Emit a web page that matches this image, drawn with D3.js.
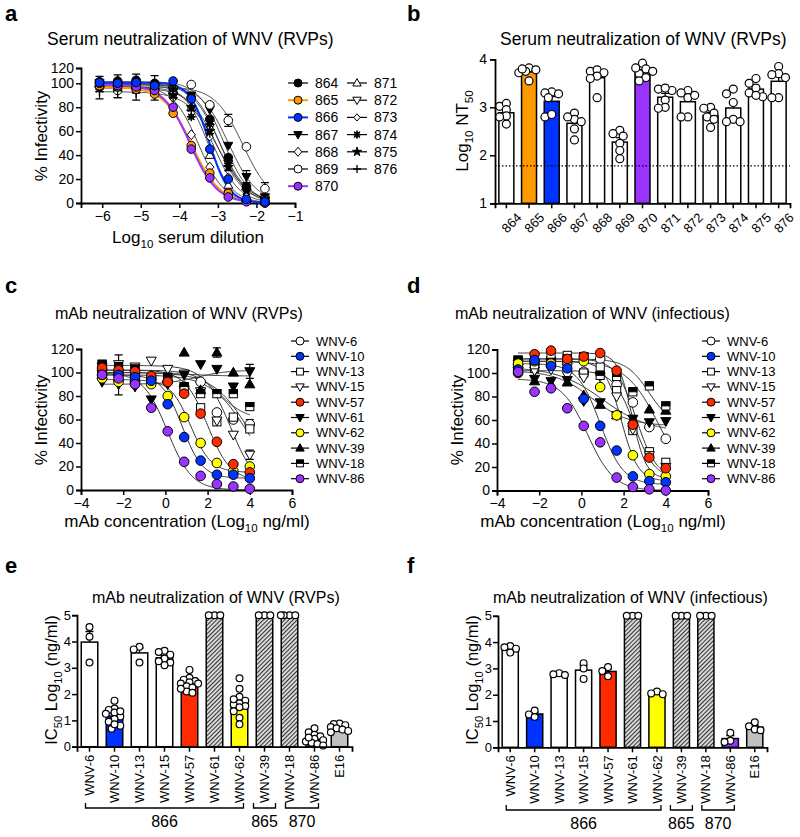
<!DOCTYPE html>
<html><head><meta charset="utf-8">
<script src="https://cdn.jsdelivr.net/npm/d3@7"></script>
<style>body{margin:0;background:#fff} text{font-family:"Liberation Sans",Arial,Helvetica,sans-serif;fill:#000}</style>
</head><body>
<script>
// ================= DATA =================
// Panel a – serum neutralization curves (RVPs)
const serumIds = ["864","865","866","867","868","869","870","871","872","873","874","875","876"];
const serumFill = ["#000","#ff9900","#0033ff","#000","#fff","#fff","#9933ff","#fff","#fff","#fff","#000","#000","#000"];
const serumShape = ["circle","circle","circle","triDown","diamond","circle","circle","tri","triDown","diamondSmall","burst","star","plus"];
const serumLine = ["#333","#ff9900","#0033ff","#333","#333","#333","#9933ff","#333","#333","#333","#333","#333","#333"];
const serumDilution = [-6.07,-5.60,-5.12,-4.64,-4.16,-3.69,-3.21,-2.73,-2.26,-1.78];
const serumInfectivity = [
  [102,103,104,100,96,88,70,38,14,3],
  [98,97,95,91,75,48,25,8,2,0],
  [101,100,101,98,103,87,45,20,3,1],
  [100,99,97,96,94,90,78,48,22,5],
  [98,97,99,95,88,57,30,10,3,1],
  [97,94,96,97,92,99,82,69,47,12],
  [100,98,97,94,80,45,21,5,1,0],
  [99,100,98,97,94,80,40,15,4,1],
  [101,99,100,98,95,86,63,33,10,3],
  [97,98,96,97,92,80,55,22,7,2],
  [100,101,99,98,95,72,66,33,12,2],
  [96,97,95,94,90,80,60,30,10,3],
  [93,94,92,90,88,77,58,35,13,4]
];
const serumErr = [
  [7,8,8,10,6,0,0,0,0,0],
  [0,0,0,0,0,0,0,0,0,0],
  [0,0,0,0,0,0,0,0,0,0],
  [0,0,0,0,0,0,0,0,5,0],
  [0,0,0,0,0,0,0,0,0,0],
  [0,6,0,0,0,0,0,5,0,5],
  [0,0,0,0,0,0,0,0,0,0],
  [0,0,0,0,0,0,0,0,0,0],
  [0,0,0,0,0,0,0,0,0,0],
  [0,0,0,0,0,0,0,0,0,0],
  [0,0,0,0,0,0,0,6,0,0],
  [0,0,0,0,0,0,0,0,0,0],
  [6,6,6,4,0,0,0,0,0,0]
];
const serumTop = [102,97,101,99,98,97,99,99,100,97,100,96,93];
const serumLogIC50 = [-2.85,-3.68,-3.22,-2.72,-3.5,-2.35,-3.72,-3.25,-2.95,-3.12,-2.95,-3.02,-3.0];
const serumHill = [1.3,1.2,1.7,1.2,1.3,1.2,1.25,1.4,1.3,1.3,1.2,1.2,1.1];

// Panel b – Log10 NT50 per serum
const nt50Points = [
  [3.02,3.08,2.65,2.95,2.82,2.80],
  [3.82,3.72,3.55,3.78,3.75,3.80],
  [3.32,3.30,3.20,2.80,2.85,3.28],
  [2.88,2.75,2.70,2.55,2.32,2.80],
  [3.75,3.78,3.72,3.65,3.60,3.20],
  [2.52,2.45,2.40,2.25,2.10,1.93],
  [3.92,3.80,3.75,3.70,3.62,3.55,3.82],
  [3.38,3.35,3.40,3.15,3.00,2.98],
  [3.35,3.30,3.20,3.25,2.80,2.80],
  [3.00,2.98,2.88,2.80,2.75,2.58],
  [3.38,3.28,3.10,2.75,2.70,2.70],
  [3.60,3.50,3.40,3.30,3.22,3.25],
  [3.85,3.70,3.68,3.62,3.20,3.20]
];
const nt50Fill = ["#fff","#ff9900","#0033ff","#fff","#fff","#fff","#9933ff","#fff","#fff","#fff","#fff","#fff","#fff"];
const nt50Limit = 1.78;

// Panels c, d – mAb neutralization curves
const mAbIds = ["WNV-6","WNV-10","WNV-13","WNV-15","WNV-57","WNV-61","WNV-62","WNV-39","WNV-18","WNV-86"];
const mAbFill = ["#fff","#0033ff","#fff","#fff","#ff2a00","#000","#ffff00","#000","#fff","#9933ff"];
const mAbShape = ["circle","circle","square","triDown","circle","triDown","circle","tri","halfSquare","circle"];
const mAbConc = [-3.0,-2.22,-1.44,-0.67,0.11,0.89,1.67,2.44,3.22,4.0];
const rvpInfectivity = [
  [102,100,97,95,92,88,92,66,60,56],
  [98,98,96,93,73,45,25,13,13,10],
  [100,97,96,92,95,87,70,58,62,52],
  [105,107,105,110,103,99,84,59,47,30],
  [104,102,101,97,92,82,65,41,22,15],
  [92,90,88,77,90,98,107,103,88,101],
  [95,92,92,90,80,62,40,23,16,20],
  [105,100,95,97,95,117,85,117,100,90],
  [107,105,103,95,96,88,82,82,82,71],
  [98,95,90,70,50,24,12,5,3,1]
];
const rvpErr = [
  [0,0,0,0,0,0,0,0,0,4],
  [0,17,0,0,0,0,0,0,0,0],
  [0,0,0,0,0,0,0,0,0,0],
  [0,0,0,0,0,0,0,0,0,4],
  [0,0,0,0,0,0,0,0,0,0],
  [0,0,0,0,0,0,0,0,0,6],
  [0,0,0,0,0,0,0,0,0,0],
  [0,0,0,0,0,0,0,4,0,0],
  [0,0,0,0,0,0,0,0,0,0],
  [0,0,0,0,0,0,0,0,0,0]
];
const rvpTop = [100,98,98,106,102,90,94,100,102,100];
const rvpBottom = [0,10,0,0,8,102,15,97,60,0];
const rvpLogIC50 = [4.0,0.8,3.9,3.1,2.0,1.5,1.2,1.0,2.6,0.1];
const rvpHill = [0.5,0.9,0.5,0.7,0.8,0.6,0.9,0.5,0.7,0.75];

const infInfectivity = [
  [105,108,112,108,101,112,90,75,54,44],
  [103,111,106,104,78,55,34,12,8,7],
  [110,104,114,115,100,105,85,51,33,24],
  [102,102,103,98,96,97,80,52,30,20],
  [100,116,119,112,114,117,102,56,28,19],
  [108,95,93,94,76,75,64,61,58,59],
  [108,110,108,110,110,88,64,30,14,12],
  [110,93,90,92,81,73,64,60,69,68],
  [111,107,109,112,114,98,97,84,89,72],
  [101,84,87,70,55,41,11,3,1,0]
];
const infTop = [110,108,112,102,117,105,110,102,112,95];
const infBottom = [0,5,10,10,10,50,8,55,55,0];
const infLogIC50 = [3.7,0.9,2.6,2.5,2.4,1.0,1.9,0.5,3.2,0.3];
const infHill = [0.55,0.8,0.9,0.9,1.3,0.4,1.1,0.5,0.8,0.7];

// Panels e, f – IC50 per mAb
const ic50Ids = ["WNV-6","WNV-10","WNV-13","WNV-15","WNV-57","WNV-61","WNV-62","WNV-39","WNV-18","WNV-86","E16"];
const ic50Fill = ["#fff","#0033ff","#fff","#fff","#ff2a00","hatch","#ffff00","hatch","hatch","#9933ff","#c0c0c0"];
const rvpIC50 = [
  [4.55,4.18,3.2],
  [1.75,1.45,1.4,1.3,1.25,1.15,1.05,0.95,0.8,0.68,1.35,0.85],
  [3.8,3.7,3.2],
  [3.65,3.6,3.5,3.35,3.2,3.1,3.25],
  [2.92,2.62,2.55,2.5,2.45,2.4,2.3,2.25,2.1,2.05,2.4,2.2],
  [5,5,5],
  [2.6,2.2,1.9,1.75,1.65,1.6,1.55,1.5,1.35,1.1,0.85,1.8],
  [5,5,5],
  [5,5,5,5],
  [0.7,0.55,0.45,0.4,0.3,0.25,0.2,0.15,0.1,0.05,0.35],
  [0.88,0.86,0.82,0.75,0.7,0.65,0.6,0.55]
];
const infIC50 = [
  [3.85,3.8,3.75,3.6],
  [1.4,1.25,1.15],
  [2.82,2.78,2.75],
  [3.2,3.0,2.6],
  [3.05,2.9,2.7],
  [5,5,5],
  [2.12,2.05,2.02],
  [5,5,5],
  [5,5,5],
  [0.55,0.25,0.2],
  [0.95,0.8,0.68,0.65]
];
const donorLabels = ["866","865","870"];
const donorFirst = ["WNV-6","WNV-39","WNV-18"];
const donorLast = ["WNV-62","WNV-39","WNV-86"];

// ================= DRAWING =================
const svg = d3.select("body").append("svg").attr("width",800).attr("height",837);
const defs = svg.append("defs");
const pat = defs.append("pattern").attr("id","hatch").attr("patternUnits","userSpaceOnUse")
  .attr("width",3).attr("height",3).attr("patternTransform","rotate(45)");
pat.append("rect").attr("width",3).attr("height",3).attr("fill","#dcdcdc");
pat.append("line").attr("x1",0.5).attr("y1",0).attr("x2",0.5).attr("y2",3).attr("stroke","#333").attr("stroke-width",1.1);

function fillOf(f){ return f==="hatch" ? "url(#hatch)" : f; }

function marker(g, shape, fill, x, y, r){
  const s = g.append("g").attr("transform",`translate(${x},${y})`);
  let p;
  switch(shape){
    case "circle": p = s.append("circle").attr("r",r); break;
    case "square": p = s.append("rect").attr("x",-r*0.85).attr("y",-r*0.85).attr("width",r*1.7).attr("height",r*1.7); break;
    case "halfSquare":
      s.append("rect").attr("x",-r*0.85).attr("y",-r*0.85).attr("width",r*1.7).attr("height",r*1.7).attr("fill","#fff").attr("stroke","#000");
      p = s.append("rect").attr("x",-r*0.85).attr("y",-r*0.85).attr("width",r*1.7).attr("height",r*0.85); fill="#000"; break;
    case "tri": p = s.append("path").attr("d",`M0,${-r*1.1}L${r*1.05},${r*0.75}L${-r*1.05},${r*0.75}Z`); break;
    case "triDown": p = s.append("path").attr("d",`M0,${r*1.1}L${r*1.05},${-r*0.75}L${-r*1.05},${-r*0.75}Z`); break;
    case "diamond": p = s.append("path").attr("d",`M0,${-r*1.15}L${r*0.95},0L0,${r*1.15}L${-r*0.95},0Z`); break;
    case "diamondSmall": p = s.append("path").attr("d",`M0,${-r*0.9}L${r*0.8},0L0,${r*0.9}L${-r*0.8},0Z`); break;
    case "star": p = s.append("path").attr("d",d3.symbol(d3.symbolStar, r*r*1.6)()); break;
    case "burst": {
      const pts=[]; for(let k=0;k<16;k++){ const a=k*Math.PI/8; const rr=(k%2===0)?r*1.0:r*0.45; pts.push([rr*Math.sin(a),-rr*Math.cos(a)]); }
      p = s.append("path").attr("d","M"+pts.map(q=>q.join(",")).join("L")+"Z"); break;
    }
    case "plus":
      s.append("path").attr("d",`M${-r},0H${r}M0,${-r}V${r}`).attr("stroke","#000").attr("stroke-width",1.3).attr("fill","none");
      return s;
  }
  p.attr("fill",fill).attr("stroke","#000").attr("stroke-width",1);
  return s;
}

function styleAxis(g, fs){
  g.select(".domain").attr("stroke","#000").attr("stroke-width",1.8);
  g.selectAll(".tick line").attr("stroke","#000").attr("stroke-width",1.5);
  g.selectAll(".tick text").attr("font-size",fs).attr("font-family",'"Liberation Sans",Arial,sans-serif').attr("fill","#000");
}

function text(x,y,str,opts={}){
  const t = svg.append("text").attr("x",x).attr("y",y).text(str)
    .attr("font-size",opts.size||16).attr("text-anchor",opts.anchor||"start");
  if(opts.bold) t.attr("font-weight","bold");
  return t;
}
function richText(parent, x, y, parts, size, anchor, rotate){
  const t = parent.append("text").attr("font-size",size).attr("text-anchor",anchor||"middle");
  if(rotate) t.attr("transform",`translate(${x},${y}) rotate(-90)`); else t.attr("x",x).attr("y",y);
  let shifted=false;
  parts.forEach(([s,sub])=>{
    const ts = t.append("tspan").text(s);
    if(sub){ ts.attr("font-size",size*0.68).attr("dy",size*0.28); shifted=true; }
    else if(shifted){ ts.attr("dy",-size*0.28); shifted=false; }
  });
  return t;
}
function panelLetter(x,y,l){ text(x,y,l,{size:22,bold:true}); }

// compact beeswarm: points may overlap partly, like the original
function beeswarm(vals, y, r){
  const placed=[], out=new Array(vals.length);
  const order = d3.range(vals.length).sort((a,b)=>vals[b]-vals[a]);
  const cands=[0,-1,1,-2,2,-3,3].map(k=>k*r*0.85);
  for(const i of order){
    const yy=y(vals[i]);
    let best=0, bestD=-1;
    for(const c of cands){
      const d = placed.length? d3.min(placed,p=>Math.hypot(p.x-c,p.y-yy)) : 99;
      if(d>=r*1.5){best=c;bestD=99;break;}
      if(d>bestD){bestD=d;best=c;}
    }
    placed.push({x:best,y:yy}); out[i]=best;
  }
  return out;
}

// ---------- Panel a ----------
(function(){
  panelLetter(5,21,"a");
  text(47,45,"Serum neutralization of WNV (RVPs)",{size:17.5});
  const x = d3.scaleLinear().domain([-6.55,-1]).range([81,295]);
  const y = d3.scaleLinear().domain([0,100,120]).range([203,83.3,68]);
  const gx = svg.append("g").attr("transform","translate(0,203)").call(d3.axisBottom(x).tickValues([-6,-5,-4,-3,-2,-1]).tickFormat(d3.format("d")).tickSizeOuter(0).tickSize(5).tickPadding(3));
  styleAxis(gx,14);
  const gy = svg.append("g").attr("transform","translate(81,0)").call(d3.axisLeft(y).tickValues([0,20,40,60,80,100,120]).tickSizeOuter(0).tickSize(5).tickPadding(2));
  styleAxis(gy,14);
  richText(svg,188,243,[["Log"],["10",true],[" serum dilution"]],17,"middle");
  richText(svg,47,136,[["% Infectivity"]],17,"middle",true);

  const order = [0,3,4,5,7,8,9,10,11,12,1,6,2];
  const gc = svg.append("g");
  const xs = d3.range(-6.07,-1.70,0.02);
  order.forEach(i=>{
    const line = d3.line().x(d=>x(d)).y(d=>y(serumTop[i]/(1+Math.pow(10,(d-serumLogIC50[i])*serumHill[i]))));
    const colored = serumLine[i]!=="#333";
    gc.append("path").attr("d",line(xs)).attr("fill","none").attr("stroke",serumLine[i]).attr("stroke-width",colored?2:0.9);
  });
  const gp = svg.append("g");
  order.forEach(i=>{
    serumInfectivity[i].forEach((v,j)=>{
      const e = serumErr[i][j];
      if(e>0){
        const cx=x(serumDilution[j]);
        gp.append("path").attr("d",`M${cx},${y(v-e)}V${y(v+e)}M${cx-4},${y(v+e)}H${cx+4}M${cx-4},${y(v-e)}H${cx+4}`).attr("stroke","#000").attr("stroke-width",1.2).attr("fill","none");
      }
    });
  });
  order.forEach(i=>{
    serumInfectivity[i].forEach((v,j)=> marker(gp, serumShape[i], serumFill[i], x(serumDilution[j]), y(v), 4.3));
  });
  const lg = svg.append("g");
  serumIds.forEach((id,i)=>{
    const col = i<7?0:1, row = i<7?i:i-7;
    const sx = col===0?298:357, ty = 83 + row*17.2;
    const colored = serumLine[i]!=="#333";
    lg.append("line").attr("x1",sx-10).attr("x2",sx+10).attr("y1",ty).attr("y2",ty).attr("stroke",colored?serumLine[i]:"#000").attr("stroke-width",colored?2:1.2);
    marker(lg, serumShape[i], serumFill[i], sx, ty, 4);
    lg.append("text").attr("x",sx+17).attr("y",ty+5).attr("font-size",14).text(id);
  });
})();

// ---------- Panel b ----------
(function(){
  panelLetter(407,21,"b");
  text(500,45,"Serum neutralization of WNV (RVPs)",{size:17.5});
  const x = d3.scaleBand().domain(serumIds).range([495,790]).paddingInner(0.34).paddingOuter(0.17);
  const y = d3.scaleLinear().domain([1,4]).range([203.3,59.3]);
  const g = svg.append("g");
  serumIds.forEach((id,i)=>{
    const pts = nt50Points[i], m = d3.mean(pts);
    g.append("rect").attr("x",x(id)).attr("width",x.bandwidth()).attr("y",y(m)).attr("height",y(1)-y(m))
      .attr("fill",nt50Fill[i]).attr("stroke","#000").attr("stroke-width",1.5);
  });
  g.append("line").attr("x1",495).attr("x2",790).attr("y1",y(nt50Limit)).attr("y2",y(nt50Limit))
    .attr("stroke","#000").attr("stroke-width",1.2).attr("stroke-dasharray","1.5,2");
  serumIds.forEach((id,i)=>{
    const pts = nt50Points[i], m = d3.mean(pts), sem = d3.deviation(pts)/Math.sqrt(pts.length);
    const cx = x(id)+x.bandwidth()/2;
    g.append("path").attr("d",`M${cx},${y(m)}V${y(m+sem)}M${cx-4},${y(m+sem)}H${cx+4}`).attr("stroke","#000").attr("stroke-width",1.3).attr("fill","none");
    const offs = beeswarm(pts,y,4);
    pts.forEach((v,k)=> g.append("circle").attr("cx",cx+offs[k]).attr("cy",y(v)).attr("r",4).attr("fill","#fff").attr("stroke","#000").attr("stroke-width",1.2));
  });
  const gx = svg.append("g").attr("transform","translate(0,203.3)").call(d3.axisBottom(x).tickSizeOuter(0).tickSize(5));
  styleAxis(gx,13);
  gx.selectAll(".tick text").attr("text-anchor","end").attr("transform","translate(4,3) rotate(-45)").attr("dy","0.7em");
  const gy = svg.append("g").attr("transform","translate(495,0)").call(d3.axisLeft(y).tickValues([1,2,3,4]).tickSizeOuter(0).tickSize(5).tickFormat(d3.format("d")));
  styleAxis(gy,14);
  richText(svg,468,131,[["Log"],["10",true],[" NT"],["50",true]],17,"middle",true);
})();

// ---------- Panels c, d ----------
function doseResponse(o){
  panelLetter(o.lx,293,o.letter);
  text(o.tx,319,o.title,{size:16});
  const x = d3.scaleLinear().domain([-4,6]).range([o.x0,o.x0+211]);
  const y = d3.scaleLinear().domain([0,120]).range([o.y0,o.y0-141]);
  const gx = svg.append("g").attr("transform",`translate(0,${o.y0})`).call(d3.axisBottom(x).tickValues([-4,-2,0,2,4,6]).tickFormat(d3.format("d")).tickSizeOuter(0).tickSize(5).tickPadding(3));
  styleAxis(gx,14);
  const gy = svg.append("g").attr("transform",`translate(${o.x0},0)`).call(d3.axisLeft(y).tickValues([0,20,40,60,80,100,120]).tickSizeOuter(0).tickSize(5).tickPadding(2));
  styleAxis(gy,14);
  richText(svg,o.x0+106,527,[["mAb concentration (Log"],["10",true],[" ng/ml)"]],17,"middle");
  richText(svg,o.x0-34,420,[["% Infectivity"]],17,"middle",true);
  const xs = d3.range(-3,4.001,0.05);
  const gc = svg.append("g");
  mAbIds.forEach((id,i)=>{
    const line = d3.line().x(d=>x(d)).y(d=>y(o.bottom[i]+(o.top[i]-o.bottom[i])/(1+Math.pow(10,(d-o.ic50[i])*o.hill[i]))));
    gc.append("path").attr("d",line(xs)).attr("fill","none").attr("stroke","#333").attr("stroke-width",1);
  });
  const gp = svg.append("g");
  if(o.err) mAbIds.forEach((id,i)=> o.vals[i].forEach((v,j)=>{
    const e=o.err[i][j]; if(e>0){ const cx=x(mAbConc[j]);
      gp.append("path").attr("d",`M${cx},${y(v-e)}V${y(v+e)}M${cx-4},${y(v+e)}H${cx+4}M${cx-4},${y(v-e)}H${cx+4}`).attr("stroke","#000").attr("stroke-width",1.2).attr("fill","none"); }
  }));
  const order=[0,2,3,5,7,8,6,4,1,9];
  order.forEach(i=> o.vals[i].forEach((v,j)=> marker(gp, mAbShape[i], mAbFill[i], x(mAbConc[j]), y(v), 4.8)));
  const lg = svg.append("g");
  mAbIds.forEach((id,i)=>{
    const ty = 341 + i*15.3;
    lg.append("line").attr("x1",o.legX-9).attr("x2",o.legX+9).attr("y1",ty).attr("y2",ty).attr("stroke","#000").attr("stroke-width",1.2);
    marker(lg, mAbShape[i], mAbFill[i], o.legX, ty, 4);
    lg.append("text").attr("x",o.legX+16).attr("y",ty+4.5).attr("font-size",13).text(id);
  });
}
doseResponse({letter:"c",lx:5,tx:55,title:"mAb neutralization of WNV (RVPs)",x0:81,y0:490,vals:rvpInfectivity,err:rvpErr,top:rvpTop,bottom:rvpBottom,ic50:rvpLogIC50,hill:rvpHill,legX:300});
doseResponse({letter:"d",lx:407,tx:455,title:"mAb neutralization of WNV (infectious)",x0:497,y0:490.5,vals:infInfectivity,err:null,top:infTop,bottom:infBottom,ic50:infLogIC50,hill:infHill,legX:711});

// ---------- Panels e, f ----------
function ic50Panel(o){
  panelLetter(o.lx,573,o.letter);
  text(o.tx,603,o.title,{size:16});
  const x = d3.scaleBand().domain(ic50Ids).range([o.x0,o.x1]).paddingInner(0.34).paddingOuter(0.17);
  const y = d3.scaleLinear().domain([0,5]).range([o.y0,o.y0-131.5]);
  const g = svg.append("g");
  ic50Ids.forEach((id,i)=>{
    const pts=o.vals[i], m=d3.mean(pts);
    g.append("rect").attr("x",x(id)).attr("width",x.bandwidth()).attr("y",y(m)).attr("height",y(0)-y(m))
      .attr("fill",fillOf(ic50Fill[i])).attr("stroke","#000").attr("stroke-width",1.5);
  });
  ic50Ids.forEach((id,i)=>{
    const pts=o.vals[i], m=d3.mean(pts), sem=d3.deviation(pts)/Math.sqrt(pts.length);
    const cx=x(id)+x.bandwidth()/2;
    if(sem>0.005) g.append("path").attr("d",`M${cx},${y(m)}V${y(m+sem)}M${cx-4},${y(m+sem)}H${cx+4}`).attr("stroke","#000").attr("stroke-width",1.3).attr("fill","none");
    const offs=beeswarm(pts,y,3.4);
    pts.forEach((v,k)=> g.append("circle").attr("cx",cx+offs[k]).attr("cy",y(v)).attr("r",3.4).attr("fill","#fff").attr("stroke","#000").attr("stroke-width",1.2));
  });
  const gx = svg.append("g").attr("transform",`translate(0,${o.y0})`).call(d3.axisBottom(x).tickSizeOuter(0).tickSize(5));
  styleAxis(gx,13);
  gx.selectAll(".tick text").attr("text-anchor","end").attr("transform","rotate(-90)").attr("x",-8).attr("y",0).attr("dy","0.35em");
  const gy = svg.append("g").attr("transform",`translate(${o.x0},0)`).call(d3.axisLeft(y).tickValues([0,1,2,3,4,5]).tickFormat(d3.format("d")).tickSizeOuter(0).tickSize(5).tickPadding(1));
  styleAxis(gy,13);
  richText(svg,o.x0-20,680,[["IC"],["50",true],[" Log"],["10",true],[" (ng/ml)"]],16.5,"middle",true);
  const bg = svg.append("g");
  donorLabels.forEach((lab,k)=>{
    let a = x(donorFirst[k])+x.bandwidth()/2-4, b = x(donorLast[k])+x.bandwidth()/2+4;
    if(b-a<22){ const c=(a+b)/2; a=c-11; b=c+11; }
    bg.append("path").attr("d",`M${a},${o.by-5}V${o.by}H${b}V${o.by-5}`).attr("fill","none").attr("stroke","#000").attr("stroke-width",1.3);
    bg.append("text").attr("x",(a+b)/2).attr("y",o.by+19).attr("text-anchor","middle").attr("font-size",16).text(lab);
  });
}
ic50Panel({letter:"e",lx:5,tx:92,title:"mAb neutralization of WNV (RVPs)",x0:77,x1:352,y0:746.7,vals:rvpIC50,by:808});
ic50Panel({letter:"f",lx:407,tx:493,title:"mAb neutralization of WNV (infectious)",x0:498,x1:767,y0:747.3,vals:infIC50,by:810});
</script>
</body></html>
